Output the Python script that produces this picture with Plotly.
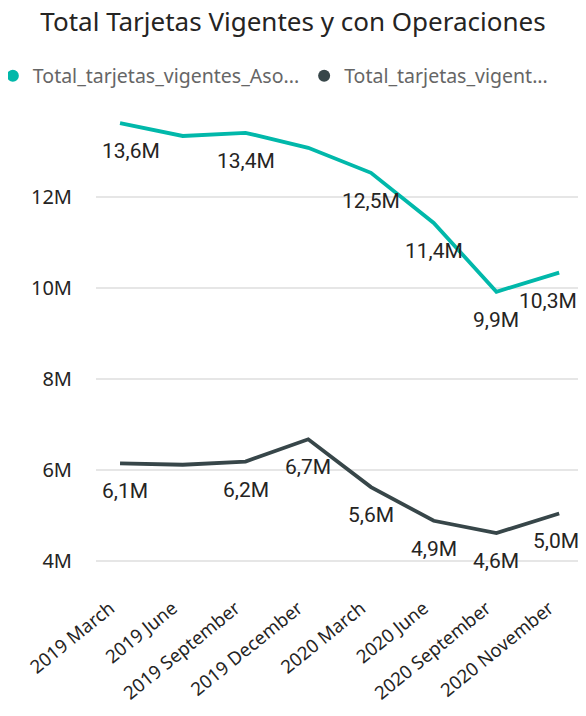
import plotly.graph_objects as go

categories = ["2019 March", "2019 June", "2019 September", "2019 December",
              "2020 March", "2020 June", "2020 September", "2020 November"]
vigentes_asociadas = [13.61e6, 13.33e6, 13.40e6, 13.07e6, 12.52e6, 11.42e6, 9.91e6, 10.33e6]
vigentes_operaciones = [6.14e6, 6.11e6, 6.18e6, 6.67e6, 5.62e6, 4.88e6, 4.61e6, 5.04e6]
show_label_a = [True, False, True, False, True, True, True, True]
show_label_b = [True, False, True, True, True, True, True, True]
legend_names = ["Total_tarjetas_vigentes_Aso...", "Total_tarjetas_vigent..."]
y_ticks = [4e6, 6e6, 8e6, 10e6, 12e6]
y_tick_labels = ["4M", "6M", "8M", "10M", "12M"]

TEAL = "#01B8AA"
DARK = "#374649"
# small horizontal nudges of labels (style only)
xshift_a = [11, 0, 0, 0, 0, 0, 0, -11]
xshift_b = [5, 0, 0, 0, 0, 0, 0, -3]


def fmt(v):
    return f"{v/1e6:.1f}M".replace(".", ",")


label_font = dict(family="Roboto", size=21, color="#252423")

fig = go.Figure()
for vals, shows, shifts, color, name in [
    (vigentes_asociadas, show_label_a, xshift_a, TEAL, legend_names[0]),
    (vigentes_operaciones, show_label_b, xshift_b, DARK, legend_names[1]),
]:
    fig.add_trace(go.Scatter(
        x=categories, y=vals, mode="lines",
        line=dict(color=color, width=3.8),
        showlegend=False, hoverinfo="skip",
    ))
    fig.add_trace(go.Scatter(
        x=[None], y=[None], mode="markers", name=name,
        marker=dict(color=color, size=17, symbol="circle"),
    ))
    for c, v, s, dx in zip(categories, vals, shows, shifts):
        if s:
            fig.add_annotation(x=c, y=v, text=fmt(v), showarrow=False,
                               xanchor="center", yanchor="middle",
                               yshift=-28, xshift=dx, font=label_font)

fig.update_layout(
    width=570, height=700,
    paper_bgcolor="white", plot_bgcolor="white",
    margin=dict(l=88, r=0, t=92, b=118, autoexpand=False),
    title=dict(text="Total Tarjetas Vigentes y con Operaciones",
               x=0.5, xanchor="center", xref="container",
               y=0.98, yanchor="middle", yref="container",
               font=dict(family="Noto Sans", size=26, color="#252423")),
    legend=dict(orientation="h", x=-0.214, xanchor="left", y=1.049, yanchor="middle",
                font=dict(family="Noto Sans", size=19.5, color="#666666"),
                itemsizing="constant", itemwidth=30, tracegroupgap=0),
    font=dict(family="Noto Sans"),
)
fig.update_xaxes(
    type="category", range=[-0.383, 7.30], showgrid=False, zeroline=False,
    showline=False, tickangle=-39, automargin=False,
    tickfont=dict(family="Noto Sans", size=18.5, color="#252423"),
    ticks="", ticklabelstandoff=3, ticklabelshift=-10,
)
fig.update_yaxes(
    range=[3.36e6, 14.12e6], tickvals=y_ticks, ticktext=y_tick_labels,
    showgrid=True, gridcolor="#E6E6E6", gridwidth=1.5, zeroline=False,
    showline=False, ticks="", ticklabelstandoff=23, automargin=False,
    tickfont=dict(family="Noto Sans", size=20, color="#252423"),
)

fig.write_html("out.html")
